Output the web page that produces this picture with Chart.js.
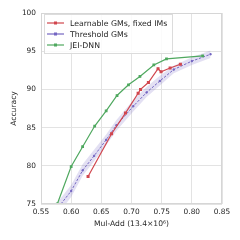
<!DOCTYPE html>
<html>
<head>
<meta charset="utf-8">
<script src="https://cdn.jsdelivr.net/npm/chart.js@4.4.1/dist/chart.umd.min.js"></script>
<style>
  html, body { margin: 0; padding: 0; background: #fff; }
  #wrap { width: 240px; height: 240px; }
</style>
</head>
<body>
<div id="wrap"><canvas id="chart" width="240" height="240"></canvas></div>
<script>
// values
const learnX = [0.628, 0.667, 0.690, 0.711, 0.715, 0.728, 0.744, 0.749, 0.764, 0.781];
const learnY = [78.6, 84.2, 86.9, 89.5, 90.0, 90.9, 92.7, 92.3, 92.8, 93.3];

const threshX = [0.579, 0.600, 0.619, 0.638, 0.658, 0.675, 0.703, 0.725, 0.747, 0.770, 0.800, 0.831];
const threshY = [74.6, 76.7, 79.4, 81.3, 83.4, 85.3, 87.8, 89.6, 91.1, 92.6, 93.7, 94.6];
const threshLo = [73.8, 75.9, 78.7, 80.6, 82.7, 84.6, 87.1, 89.0, 90.5, 92.1, 93.2, 94.1];
const threshHi = [75.4, 77.5, 80.2, 82.1, 84.1, 86.0, 88.6, 90.3, 91.8, 93.1, 94.2, 95.1];

const jeiX = [0.577, 0.600, 0.619, 0.639, 0.658, 0.676, 0.695, 0.714, 0.737, 0.758, 0.818];
const jeiY = [75.0, 79.9, 82.5, 85.2, 87.2, 89.2, 90.6, 91.7, 93.2, 94.0, 94.4];

const xTicks = [0.55, 0.60, 0.65, 0.70, 0.75, 0.80, 0.85];
const yTicks = [75, 80, 85, 90, 95, 100];

const labels = ['Learnable GMs, fixed IMs', 'Threshold GMs', 'JEI-DNN'];
const colors = ['#d1464e', '#7466c2', '#4fa85f'];

function pts(xs, ys) {
    return xs.map((x, i) => ({ x: x, y: ys[i] }));
}

const font = 'DejaVu Sans';

const framePlugin = {
    id: 'frame',
    afterDatasetsDraw(chart) {
        const a = chart.chartArea;
        const ctx = chart.ctx;
        ctx.save();
        ctx.strokeStyle = '#d6d6d6';
        ctx.lineWidth = 1;
        ctx.strokeRect(Math.round(a.left) + 0.5, Math.round(a.top) + 0.5,
            Math.round(a.right - a.left) - 1, Math.round(a.bottom - a.top) - 1);

        // legend box
        const bx = 44, by = 14, bw = 128, bh = 39;
        ctx.fillStyle = 'rgba(255,255,255,0.85)';
        ctx.fillRect(bx, by, bw, bh);
        ctx.strokeStyle = '#dcdcdc';
        ctx.strokeRect(bx + 0.5, by + 0.5, bw, bh);
        ctx.font = '7.8px "' + font + '"';
        ctx.textBaseline = 'middle';
        labels.forEach((t, i) => {
            const y = 23 + i * 11;
            ctx.strokeStyle = colors[i];
            ctx.lineWidth = 1.2;
            ctx.beginPath();
            ctx.moveTo(47, y);
            ctx.lineTo(64, y);
            ctx.stroke();
            ctx.fillStyle = colors[i];
            ctx.fillRect(54, y - 1.5, 3, 3);
            ctx.fillStyle = '#262626';
            ctx.fillText(t, 70, y + 0.5);
        });
        ctx.restore();
    }
};

new Chart(document.getElementById('chart'), {
    type: 'line',
    data: {
        datasets: [
            {
                label: 'bandHi',
                data: pts(threshX, threshHi),
                borderWidth: 0,
                pointRadius: 0,
                backgroundColor: 'rgba(116,102,194,0.2)',
                fill: '+1',
                order: 5
            },
            {
                label: 'bandLo',
                data: pts(threshX, threshLo),
                borderWidth: 0,
                pointRadius: 0,
                fill: false,
                order: 5
            },
            {
                label: labels[1],
                data: pts(threshX, threshY),
                borderColor: colors[1],
                backgroundColor: colors[1],
                borderWidth: 1,
                borderDash: [2.5, 1.5],
                pointRadius: 0.9,
                pointStyle: 'rect',
                fill: false,
                order: 3
            },
            {
                label: labels[0],
                data: pts(learnX, learnY),
                borderColor: colors[0],
                backgroundColor: colors[0],
                borderWidth: 1.2,
                pointRadius: 1.3,
                pointStyle: 'rect',
                fill: false,
                order: 2
            },
            {
                label: labels[2],
                data: pts(jeiX, jeiY),
                borderColor: colors[2],
                backgroundColor: colors[2],
                borderWidth: 1.2,
                pointRadius: 1.1,
                pointStyle: 'rect',
                fill: false,
                order: 1
            }
        ]
    },
    options: {
        responsive: false,
        animation: false,
        events: [],
        layout: { padding: { top: 13, right: 18, left: 8, bottom: 11 } },
        plugins: {
            legend: { display: false },
            tooltip: { enabled: false }
        },
        scales: {
            x: {
                type: 'linear',
                min: 0.55,
                max: 0.85,
                afterBuildTicks: s => { s.ticks = xTicks.map(v => ({ value: v })); },
                afterFit: s => { s.height = 25; },
                grid: { color: '#e3e3e3', lineWidth: 1, drawTicks: false },
                border: { display: false },
                ticks: {
                    padding: 4,
                    color: '#262626',
                    font: { family: font, size: 7.4 },
                    callback: v => v.toFixed(2)
                },
                title: {
                    display: true,
                    text: 'Mul-Add (13.4×10⁶)',
                    color: '#262626',
                    font: { family: font, size: 7.6 },
                    padding: { top: 0, bottom: 0.5 }
                }
            },
            y: {
                min: 75,
                max: 100,
                afterBuildTicks: s => { s.ticks = yTicks.map(v => ({ value: v })); },
                afterFit: s => { s.width = 33; },
                grid: { color: '#e3e3e3', lineWidth: 1, drawTicks: false },
                border: { display: false },
                ticks: {
                    padding: 5,
                    color: '#262626',
                    font: { family: font, size: 7.4 }
                },
                title: {
                    display: true,
                    text: 'Accuracy',
                    color: '#262626',
                    font: { family: font, size: 7.6 },
                    padding: { top: 1, bottom: 0 }
                }
            }
        }
    },
    plugins: [framePlugin]
});
</script>
</body>
</html>
